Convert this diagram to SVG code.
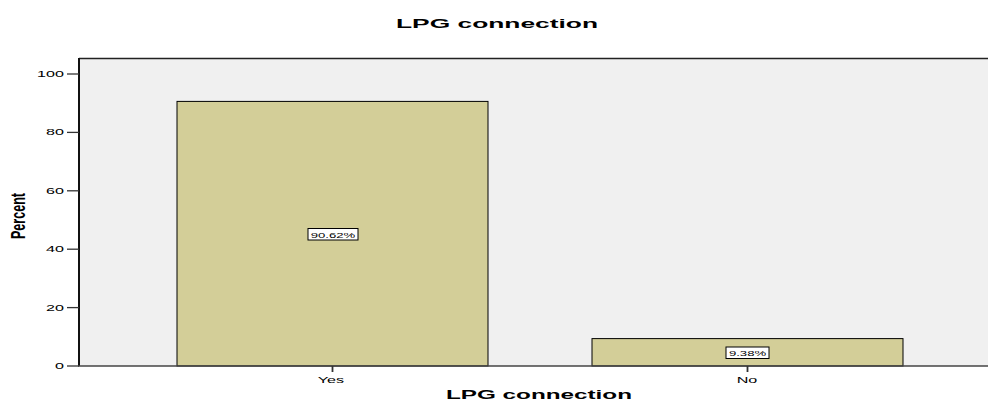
<svg xmlns="http://www.w3.org/2000/svg" width="988" height="401" viewBox="0 0 988 401">
<style>
.t{font-family:"Liberation Sans",Arial,sans-serif;fill:#000}
.title{font-size:13px;font-weight:bold}
.tick{font-size:8.5px}
.val{font-size:7.5px}
.bar{fill:#d3ce98;stroke:#000;stroke-width:1}
.lbl{fill:#fff;stroke:#000;stroke-width:1}
.ax{stroke:#222;stroke-width:1.5;fill:none}
</style>
<rect width="988" height="401" fill="#fff"/>
<g id="plot">
<rect x="79" y="58.5" width="909" height="307.5" fill="#f0f0f0"/>
<line class="ax" x1="79" y1="58.5" x2="988" y2="58.5" stroke="#333"/>
</g>
<text class="t title" x="396" y="28" textLength="202" lengthAdjust="spacingAndGlyphs">LPG connection</text>
<g id="bar-yes">
<rect class="bar" x="177" y="101.4" width="311" height="264.6"/>
<rect class="lbl" x="308" y="228.5" width="50" height="11.5"/>
<text class="t val" transform="translate(333,237.5) scale(1.75,1)" text-anchor="middle">90.62%</text>
</g>
<g id="bar-no">
<rect class="bar" x="592" y="338.6" width="311" height="27.4"/>
<rect class="lbl" x="726" y="347" width="43" height="11.5"/>
<text class="t val" transform="translate(747.5,356) scale(1.75,1)" text-anchor="middle">9.38%</text>
</g>
<g id="axes">
<line x1="79" y1="58" x2="79" y2="366" stroke="#111" stroke-width="2"/>
<line x1="78" y1="366" x2="988" y2="366" stroke="#444" stroke-width="1.5"/>
<g stroke="#333" stroke-width="1.3">
<line x1="67" y1="74" x2="79" y2="74"/>
<line x1="67" y1="132.4" x2="79" y2="132.4"/>
<line x1="67" y1="190.8" x2="79" y2="190.8"/>
<line x1="67" y1="249.2" x2="79" y2="249.2"/>
<line x1="67" y1="307.6" x2="79" y2="307.6"/>
<line x1="67" y1="366" x2="79" y2="366"/>
<line x1="332.5" y1="366" x2="332.5" y2="372" stroke-width="1.8"/>
<line x1="747.5" y1="366" x2="747.5" y2="372" stroke-width="1.8"/>
</g>
<g class="t tick" text-anchor="end">
<text transform="translate(64,77) scale(1.9,1)">100</text>
<text transform="translate(64,135.4) scale(1.9,1)">80</text>
<text transform="translate(64,193.8) scale(1.9,1)">60</text>
<text transform="translate(64,252.2) scale(1.9,1)">40</text>
<text transform="translate(64,310.6) scale(1.9,1)">20</text>
<text transform="translate(64,369) scale(1.9,1)">0</text>
</g>
<g class="t tick" text-anchor="middle">
<text transform="translate(331,382.5) scale(1.9,1)">Yes</text>
<text transform="translate(747,382.5) scale(1.9,1)">No</text>
</g>
</g>
<text class="t" transform="translate(25,239) rotate(-90)" font-size="20" font-weight="bold" textLength="46" lengthAdjust="spacingAndGlyphs">Percent</text>
<text class="t title" x="446" y="399" textLength="186" lengthAdjust="spacingAndGlyphs">LPG connection</text>
</svg>
